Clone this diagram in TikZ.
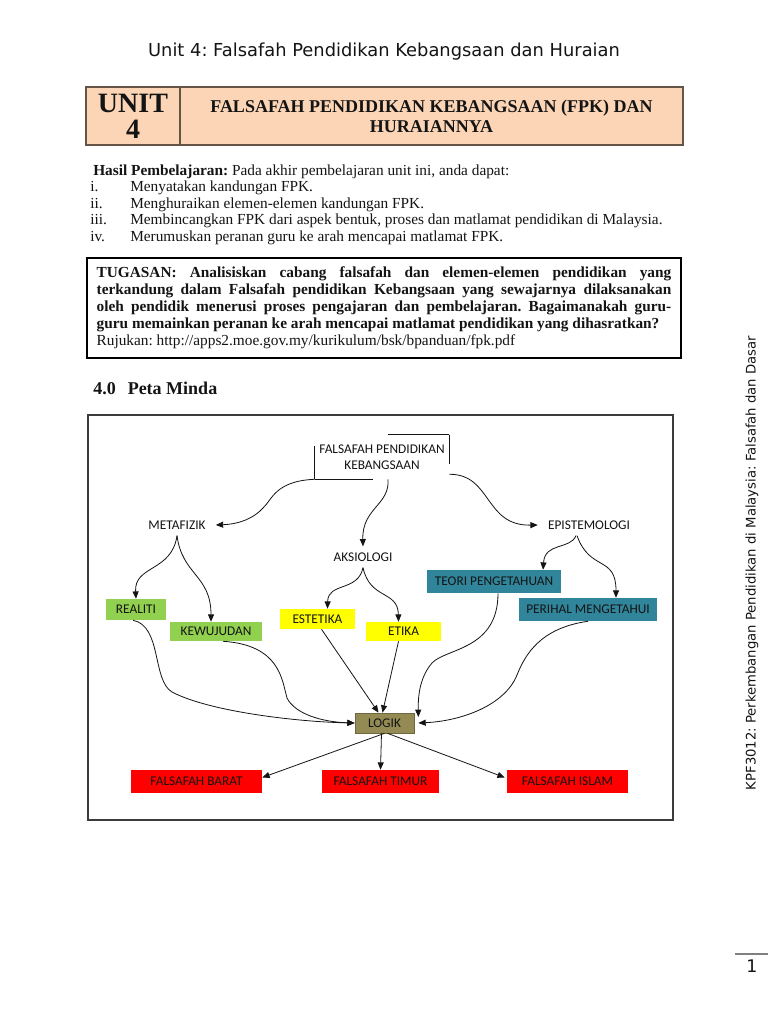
\documentclass[tikz,border=0pt]{standalone}
\usepackage{fontspec}
\setmainfont{Liberation Serif}
\newfontfamily\calibfont{Carlito}
\newfontfamily\dejavufont{DejaVu Sans}
\usetikzlibrary{positioning,arrows.meta,calc}
\definecolor{ink}{RGB}{20,20,20}
\definecolor{peach}{RGB}{251,213,181}
\definecolor{cellframe}{RGB}{100,85,70}
\definecolor{leafgreen}{RGB}{146,208,80}
\definecolor{leafyellow}{RGB}{255,255,0}
\definecolor{leafteal}{RGB}{49,133,155}
\definecolor{logikolive}{RGB}{148,138,84}
\definecolor{rootred}{RGB}{255,0,0}
\definecolor{framegray}{RGB}{60,60,60}
\tikzset{
  headcell/.style={draw=cellframe, fill=peach, line width=0.8pt, align=center,
    inner sep=0pt, text=ink},
  sz/.style 2 args={minimum width=#1*0.75pt, minimum height=#2*0.75pt},
  mapnode/.style={font=\calibfont\fontsize{10}{12}\selectfont, text=ink,
    inner sep=0pt, align=center},
  lbl/.style={mapnode, inner xsep=7.5pt, inner ysep=4.5pt},
  gleaf/.style={mapnode, fill=leafgreen},
  yleaf/.style={mapnode, fill=leafyellow},
  tleaf/.style={mapnode, fill=leafteal},
  lgk/.style={mapnode, fill=logikolive, draw=logikolive!75!black, line width=0.5pt},
  rleaf/.style={mapnode, fill=rootred},
  flow/.style={-{Triangle[length=5.5pt,width=4.5pt]}, line width=0.6pt, draw=ink},
  outline/.style={line width=0.6pt, draw=ink},
  serif11/.style={font=\fontsize{11.5}{12.75}\selectfont, text=ink, inner sep=0pt},
}
\def\tw{431pt}

\begin{document}
\frenchspacing
\begin{tikzpicture}[x=0.75pt, y=-0.75pt]
  \useasboundingbox (0,0) rectangle (768,1024);
  \fill[white] (0,0) rectangle (768,1024);
  % page head
  \node[font=\dejavufont\fontsize{13.4}{15}\selectfont, text=ink] (pagehead) at (384,52)
    {Unit 4: Falsafah Pendidikan Kebangsaan dan Huraian};
  \node[headcell, sz={94}{58}, font=\bfseries\fontsize{21}{19.5}\selectfont] (unitcell) at (133,116) {UNIT\\4};
  \node[headcell, sz={503}{58}, font=\bfseries\fontsize{13.5}{15}\selectfont] (titlecell) at (431.5,116)
    {FALSAFAH PENDIDIKAN KEBANGSAAN (FPK) DAN\\HURAIANNYA};
  % hasil pembelajaran
  \node[serif11, anchor=base west] (hasil) at (93,175)
    {\textbf{Hasil Pembelajaran:} Pada akhir pembelajaran unit ini, anda dapat:};
  \foreach \num/\txt [count=\k] in {i./{Menyatakan kandungan FPK.},
      ii./{Menghuraikan elemen-elemen kandungan FPK.},
      iii./{Membincangkan FPK dari aspek bentuk, proses dan matlamat pendidikan di Malaysia.},
      iv./{Merumuskan peranan guru ke arah mencapai matlamat FPK.}} {
    \node[serif11, anchor=base west] (num\k) at (90,{175+\k*16.6}) {\num};
    \node[serif11, anchor=base west] (item\k) at (130,{175+\k*16.6}) {\txt};
  }
  % tugasan
  \node[draw=black, line width=0.9pt, sz={594}{100}, inner sep=0pt, text width=\tw,
    font=\fontsize{11.5}{12.75}\selectfont, text=ink, align=justify] (tugasan) at (384,308)
    {\noindent\textbf{TUGASAN: Analisiskan cabang falsafah dan elemen-elemen pendidikan yang\linebreak
     terkandung dalam Falsafah pendidikan Kebangsaan yang sewajarnya dilaksanakan\linebreak
     oleh pendidik menerusi proses pengajaran dan pembelajaran. Bagaimanakah guru-\linebreak
     guru memainkan peranan ke arah mencapai matlamat pendidikan yang dihasratkan?}\\
     Rujukan: http://apps2.moe.gov.my/kurikulum/bsk/bpanduan/fpk.pdf};
  \node[anchor=base west, inner sep=0pt, text=ink, font=\bfseries\fontsize{13.5}{15}\selectfont] (petaminda)
    at (93,394) {4.0\hspace{9pt}Peta Minda};
  % peta minda
  \draw[framegray, line width=0.9pt] (88,415) rectangle (673,820);
  \node[mapnode, sz={134}{44}] (fpk) at (382,457) {FALSAFAH PENDIDIKAN\\KEBANGSAAN};
  \draw[outline] (fpk.south west) -- ++(0,-33) (fpk.south west) -- ++(58,0);
  \draw[outline] (fpk.north east) -- ++(-61,0) (fpk.north east) -- ++(0,29);
  \node[lbl] (metafizik) at (177,525) {METAFIZIK};
  \node[lbl] (aksiologi) at (363,557) {AKSIOLOGI};
  \node[lbl] (epistemologi) at (589,525) {EPISTEMOLOGI};
  \node[gleaf, sz={60}{21}] (realiti) at (136,609.5) {REALITI};
  \node[gleaf, sz={92}{19}] (kewujudan) at (216,631.5) {KEWUJUDAN};
  \node[yleaf, sz={75}{20}] (estetika) at (317.5,619) {ESTETIKA};
  \node[yleaf, sz={75}{19}] (etika) at (403.5,631.5) {ETIKA};
  \node[tleaf, sz={134}{23}] (teori) at (494,581.5) {TEORI PENGETAHUAN};
  \node[tleaf, sz={138}{23}] (perihal) at (588,609.5) {PERIHAL MENGETAHUI};
  \node[lgk, sz={59}{20}] (logik) at (384.5,723) {LOGIK};
  \node[rleaf, sz={131}{23}] (barat) at (196.5,781.5) {FALSAFAH BARAT};
  \node[rleaf, sz={117}{23}] (timur) at (380.5,781.5) {FALSAFAH TIMUR};
  \node[rleaf, sz={121}{23}] (islam) at (567.5,781.5) {FALSAFAH ISLAM};
  % cabang
  \draw[flow] (fpk.south west) .. controls (275,481) and (272,500) .. (263,508)
    .. controls (254,518) and (240,524) .. (metafizik.east);
  \draw[flow] ($(fpk.south)+(6,0)$) .. controls (390,505) and (362,508) .. (aksiologi.north);
  \draw[flow] ($(fpk.south east)+(0,-5)$) .. controls (492,474) and (484,526) .. (epistemologi.west);
  \draw[flow] (metafizik.south) .. controls (172,572) and (134,565) .. (realiti.north);
  \draw[flow] (metafizik.south) .. controls (182,575) and (211,575) .. ($(kewujudan.north)+(-5,0)$);
  \draw[flow] (aksiologi.south) .. controls (358,592) and (328,582) .. ($(estetika.north)+(10,0)$);
  \draw[flow] (aksiologi.south) .. controls (370,600) and (398,590) .. ($(etika.north)+(-5,0)$);
  \draw[flow] ($(epistemologi.south)+(-13,0)$) .. controls (570,550) and (545,542) .. ($(teori.north)+(49,0)$);
  \draw[flow] ($(epistemologi.south)+(-12,0)$) .. controls (590,572) and (616,555) .. ($(perihal.north)+(28,0)$);
  % ke logik
  \draw[flow] ($(realiti.south)+(-3,0)$) .. controls (162,626) and (152,680) .. (172,692)
    .. controls (210,712) and (300,722) .. (logik.west);
  \draw[flow] ($(kewujudan.south)+(7,0)$) .. controls (280,645) and (282,680) .. (287,698)
    .. controls (295,714) and (322,722) .. (logik.west);
  \draw[flow] ($(estetika.south)+(4,0)$) -- ($(logik.north)+(-6,0)$);
  \draw[flow] ($(etika.south)+(-5,0)$) -- ($(logik.north)+(-2,0)$);
  \draw[flow] ($(teori.south)+(4,0)$) .. controls (498,650) and (446,648) .. (432,663)
    .. controls (420,677) and (418,695) .. ($(logik.east)+(4,-6)$);
  \draw[flow] (perihal.south) .. controls (540,628) and (525,655) .. (517,675)
    .. controls (505,705) and (462,721) .. ($(logik.east)+(4,0)$);
  \draw[flow] (logik.south) -- ($(barat.east)+(0,-4)$);
  \draw[flow] ($(logik.south)+(-3,0)$) -- (timur.north);
  \draw[flow] ($(logik.south)+(3,0)$) -- ($(islam.west)+(-2,-4)$);
  % sisi halaman
  \node[rotate=90, font=\dejavufont\fontsize{9.9}{12}\selectfont, text=ink] (sidebar) at (752,563)
    {KPF3012: Perkembangan Pendidikan di Malaysia: Falsafah dan Dasar};
  \draw[gray, line width=1pt] (735,954) -- (768,954);
  \node[font=\dejavufont\fontsize{13}{15}\selectfont, text=ink] (pageno) at (752,966) {1};
\end{tikzpicture}
\end{document}
